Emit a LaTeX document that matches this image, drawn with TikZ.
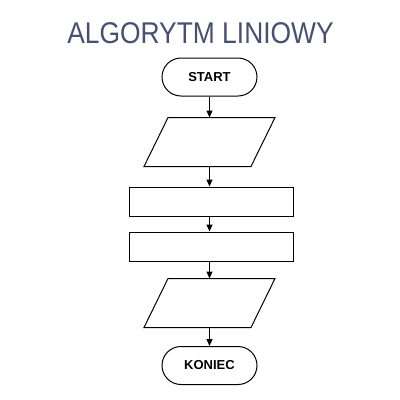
\documentclass[tikz,border=0pt]{standalone}
\usepackage{fontspec}
\setmainfont{Liberation Sans}
\usetikzlibrary{arrows.meta}
\definecolor{titlecol}{RGB}{72,80,110}
\begin{document}
\begin{tikzpicture}[x=1pt,y=-1pt, line width=1pt,
  term/.style={draw, rounded corners=19pt, minimum width=95pt, minimum height=38pt, font=\bfseries\fontsize{13}{15}\selectfont, inner sep=0pt},
  procbox/.style={draw, minimum width=164pt, minimum height=29pt, inner sep=0pt},
  iobox/.style={minimum width=106pt, minimum height=48pt, inner sep=0pt},
  flow/.style={-{Triangle[width=6pt,length=7pt]}, line width=1pt}]
\useasboundingbox (0,0) rectangle (400,400);
\fill[white] (0,0) rectangle (400,400);
\node[text=titlecol, font=\fontsize{30}{34}\selectfont, inner sep=0pt] (title) at (200.5,33) {\scalebox{0.88}[1]{ALGORYTM LINIOWY}};
\node[term] (start) at (209.5,77) {START};
\node[iobox] (in) at (209.5,142) {};
\draw ([xshift=12pt]in.north west) -- ([xshift=12pt]in.north east) -- ([xshift=-12pt]in.south east) -- ([xshift=-12pt]in.south west) -- cycle;
\node[procbox] (p1) at (211,201.5) {};
\node[procbox] (p2) at (211,246.5) {};
\node[iobox] (out) at (209.5,303) {};
\draw ([xshift=12pt]out.north west) -- ([xshift=12pt]out.north east) -- ([xshift=-12pt]out.south east) -- ([xshift=-12pt]out.south west) -- cycle;
\node[term] (end) at (209.5,365.5) {KONIEC};
\draw[flow] (start.south) -- (in.north);
\draw[flow] (in.south) -- (in.south |- p1.north);
\draw[flow] (p1.south -| in.south) -- (p2.north -| in.south);
\draw[flow] (p2.south -| in.south) -- (out.north);
\draw[flow] (out.south) -- (end.north);
\end{tikzpicture}
\end{document}
